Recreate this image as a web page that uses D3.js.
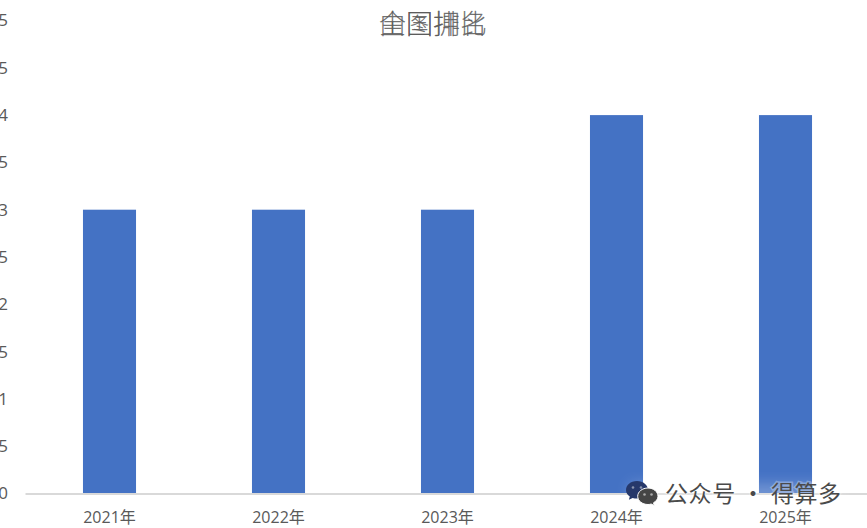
<!DOCTYPE html>
<html>
<head>
<meta charset="utf-8">
<script src="https://cdn.jsdelivr.net/npm/d3@7"></script>
<style>
    html, body { margin: 0; padding: 0; background: #fff; overflow: hidden; }
    text { font-family: "Open Sans", "Noto Sans CJK SC", sans-serif; }
    .cjk { font-family: "Noto Sans CJK SC", sans-serif; }
</style>
</head>
<body>
<div class="chart"></div>
<script>
const years = ["2021年", "2022年", "2023年", "2024年", "2025年"]
const ranks = [3, 3, 3, 4, 4]
const yTicks = [0, 0.5, 1, 1.5, 2, 2.5, 3, 3.5, 4, 4.5, 5]
// the source has two titles printed on top of each other
const titles = ["全国排名", "由图拥比"]
const watermark = "公众号 · 得算多"

const width = 867
const height = 528
const textColor = "#595959"

const xScale = d3.scaleBand()
    .domain(years)
    .range([25, 870])
    .paddingInner(0.686)
    .paddingOuter(0.343)

const yScale = d3.scaleLinear()
    .domain([0, 5])
    .range([493.5, 20.5])

let svg = d3.select(".chart")
    .append("svg")
    .attr("width", width)
    .attr("height", height)
    .style("display", "block")

const defs = svg.append("defs")
defs.append("filter")
    .attr("id", "halo")
    .attr("x", "-20%").attr("y", "-60%")
    .attr("width", "140%").attr("height", "220%")
    .append("feGaussianBlur")
    .attr("stdDeviation", 7)

svg.append("g")
    .selectAll("rect")
    .data(ranks)
    .join("rect")
    .attr("x", (d, i) => xScale(years[i]))
    .attr("y", d => yScale(d))
    .attr("width", xScale.bandwidth())
    .attr("height", d => yScale(0) - yScale(d))
    .attr("fill", "#4472c4")

// y labels run off the left edge, only the last digit shows
const yAxis = d3.axisLeft(yScale)
    .tickValues(yTicks)
    .tickSize(0)
    .tickPadding(0)
    .tickFormat(d => d)

svg.append("g")
    .attr("transform", "translate(8,0)")
    .call(yAxis)
    .call(g => g.select(".domain").remove())
    .call(g => g.selectAll("text")
        .attr("font-size", 17)
        .attr("font-family", "'Open Sans', sans-serif")
        .attr("fill", textColor))

const xAxis = d3.axisBottom(xScale)
    .tickSize(0)
    .tickPadding(18)

svg.append("g")
    .attr("transform", `translate(0,${yScale(0)})`)
    .call(xAxis)
    .call(g => g.select(".domain")
        .attr("stroke", "#d9d9d9")
        .attr("stroke-width", 2))
    .call(g => g.selectAll("text")
        .attr("font-size", 16)
        .attr("font-family", "'Open Sans', 'Noto Sans CJK SC', sans-serif")
        .attr("fill", textColor))

svg.append("g")
    .selectAll("text")
    .data(titles)
    .join("text")
    .attr("class", "cjk")
    .attr("x", 433)
    .attr("y", 34)
    .attr("text-anchor", "middle")
    .attr("font-size", 27)
    .attr("font-weight", 300)
    .attr("fill", textColor)
    .attr("fill-opacity", 0.85)
    .text(d => d)

// watermark
const mark = svg.append("g")

mark.append("rect")
    .attr("x", 630).attr("y", 484)
    .attr("width", 210).attr("height", 20)
    .attr("fill", "#fff")
    .attr("opacity", 0.25)
    .attr("filter", "url(#halo)")

mark.append("path")
    .attr("d", "M637 481c-6.500 0-11 4.200-11 9 0 2.800 1.500 5 3.800 6.600l-.9 3.200 3.700-1.800c1.400.4 2.900.6 4.400.6 6 0 11-4 11-8.600 0-4.800-4.800-9-11-9z")
    .attr("fill", "#26386a")
mark.append("path")
    .attr("d", "M648 488c-5.800 0-10.300 3.800-10.300 8.300 0 4.500 4.500 8.200 10.300 8.200 1.100 0 2.200-.2 3.200-.5l3.100 1.600-.8-2.800c2.600-1.500 4.500-3.800 4.500-6.500 0-4.500-4.400-8.300-10-8.300z")
    .attr("fill", "#454545")
    .attr("stroke", "#fff")
    .attr("stroke-width", 1)

const eyes = [[633, 487.500, "#8a93ad"], [641, 487.500, "#8a93ad"], [644.500, 494.500, "#aaa"], [651.500, 494.500, "#aaa"]]
mark.selectAll("circle")
    .data(eyes)
    .join("circle")
    .attr("cx", d => d[0])
    .attr("cy", d => d[1])
    .attr("r", 1.3)
    .attr("fill", d => d[2])

mark.append("text")
    .attr("class", "cjk")
    .attr("x", 665)
    .attr("y", 502)
    .attr("font-size", 23)
    .attr("letter-spacing", 0.6)
    .attr("fill", "#4a4a4a")
    .attr("stroke", "#fff")
    .attr("stroke-opacity", 0.3)
    .attr("stroke-width", 3)
    .attr("paint-order", "stroke")
    .text(watermark)
</script>
</body>
</html>
